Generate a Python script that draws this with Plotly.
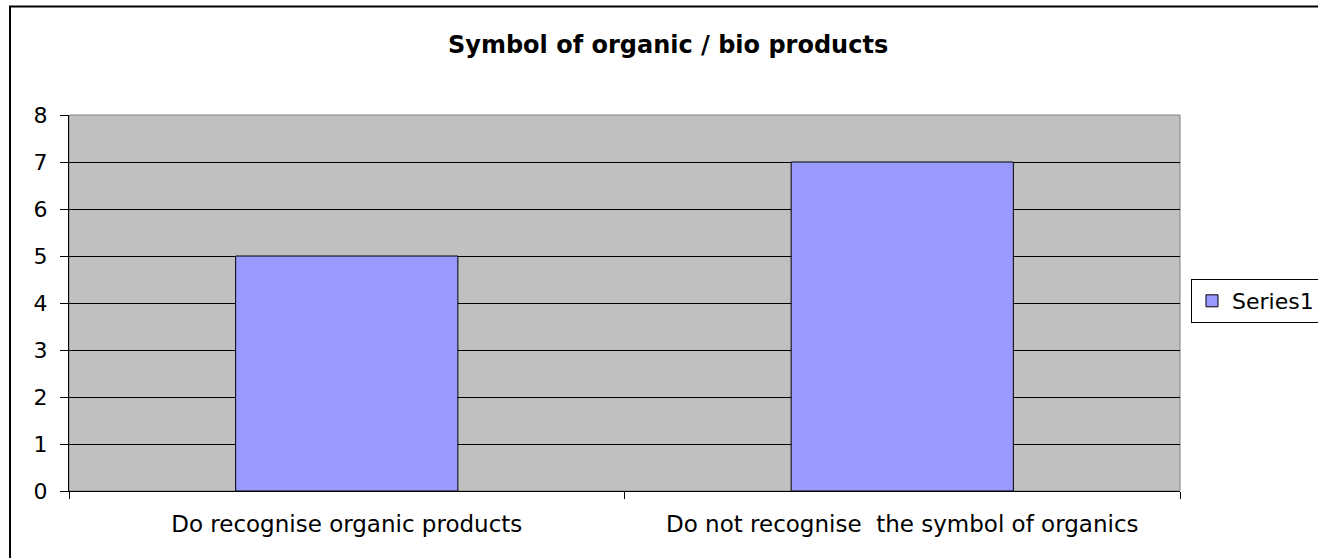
import plotly.graph_objects as go

categories = ["Do recognise organic products", "Do not recognise  the symbol of organics"]
values = [5, 7]
series_name = "Series1"
title_text = "Symbol of organic / bio products"
y_ticks = [0, 1, 2, 3, 4, 5, 6, 7, 8]

W, H = 1318, 558
L, R, T, B = 68.5, 1180, 115, 491
pw, ph = R - L, B - T

def px_x(x):
    return (x - L) / pw

def px_y(y):
    return (B - y) / ph

FONT = "DejaVu Sans"

fig = go.Figure()
fig.add_trace(go.Bar(
    x=categories, y=values, name=series_name,
    marker=dict(color="#9999FF", line=dict(color="black", width=1)),
    showlegend=True,
))

fig.update_layout(
    width=W, height=H,
    margin=dict(l=L, r=W - R, t=T, b=H - B, pad=0, autoexpand=False),
    paper_bgcolor="white",
    plot_bgcolor="#C0C0C0",
    bargap=0.6,
    showlegend=True,
    font=dict(family=FONT, size=22, color="black"),
    legend=dict(
        x=px_x(1191), y=px_y(301), xanchor="left", yanchor="middle",
        bordercolor="black", borderwidth=1, bgcolor="white",
        font=dict(family=FONT, size=22, color="black"),
        itemwidth=30,
    ),
    xaxis=dict(
        type="category", showline=True, linecolor="black", linewidth=1,
        ticks="outside", ticklen=7, tickcolor="black", tickwidth=1,
        tickson="boundaries", showgrid=False, zeroline=False,
        ticklabelstandoff=12,
        tickfont=dict(family=FONT, size=23, color="black"),
    ),
    yaxis=dict(
        range=[0, 8], tickvals=y_ticks, showline=True, linecolor="black", linewidth=1,
        ticks="outside", ticklen=8, tickcolor="black", tickwidth=1,
        showgrid=True, gridcolor="black", gridwidth=1, zeroline=False,
        ticklabelstandoff=8,
        tickfont=dict(family=FONT, size=22, color="black"),
    ),
    annotations=[dict(
        text="<b>" + title_text + "</b>", xref="paper", yref="paper",
        x=px_x(668), y=px_y(45), xanchor="center", yanchor="middle",
        showarrow=False, font=dict(family=FONT, size=24, color="black"),
    )],
    shapes=[
        dict(type="rect", xref="paper", yref="paper", x0=0, x1=1, y0=0, y1=1,
             line=dict(color="#808080", width=1), layer="below"),
        dict(type="rect", xref="paper", yref="paper",
             x0=px_x(9.5), x1=px_x(1340), y0=px_y(580), y1=px_y(6.5),
             line=dict(color="black", width=2), layer="above"),
    ],
)

fig.write_html(
    "out.html",
    config={"displayModeBar": False},
    post_script="document.body.style.margin='0px';document.body.style.overflow='hidden';",
)
